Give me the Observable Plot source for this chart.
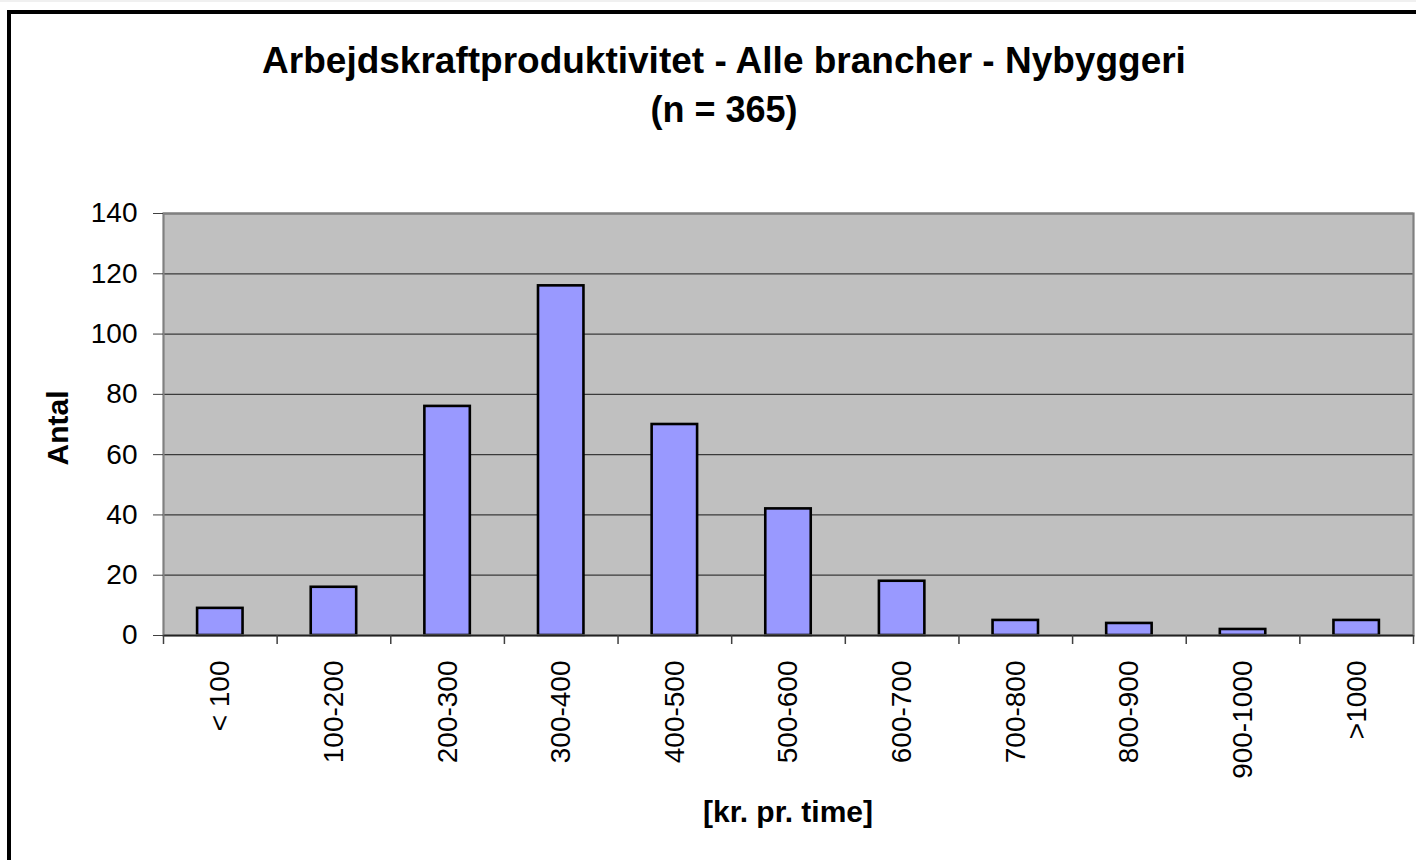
<!DOCTYPE html>
<html>
<head>
<meta charset="utf-8">
<script src="https://cdn.jsdelivr.net/npm/d3@7"></script>
<script src="https://cdn.jsdelivr.net/npm/@observablehq/plot@0.6"></script>
<style>
  html, body { margin: 0; padding: 0; background: white; }
  #wrap { position: relative; width: 1416px; height: 860px; overflow: hidden; background: white;
          font-family: "Liberation Sans", Arial, sans-serif; color: #000; }
  #chart { position: absolute; left: 0; top: 0; }
  .t { position: absolute; text-align: center; font-weight: bold; white-space: nowrap; }
  #frame { position: absolute; left: 7px; top: 10px; width: 1500px; height: 1000px;
           border: 4px solid #000; box-sizing: border-box; background: transparent; }
  #strip { position: absolute; left: 0; top: 0; width: 1416px; height: 2px; background: #f0f0f0; }
</style>
</head>
<body>
<div id="wrap">
  <div id="chart"></div>
  <div id="strip"></div>
  <div id="frame"></div>
  <div class="t" style="left:224px; top:42px; width:1000px; font-size:37px; line-height:37px;">Arbejdskraftproduktivitet - Alle brancher - Nybyggeri</div>
  <div class="t" style="left:224px; top:91.5px; width:1000px; font-size:36px; line-height:36px;">(n = 365)</div>
  <div class="t" style="left:588px; top:796.5px; width:400px; font-size:30px; line-height:30px;">[kr. pr. time]</div>
  <div class="t" style="left:-42px; top:413px; width:200px; height:30px; font-size:30px; line-height:30px; transform: rotate(-90deg);">Antal</div>
</div>
<script>
// Data
const categories = ["< 100", "100-200", "200-300", "300-400", "400-500", "500-600", "600-700", "700-800", "800-900", "900-1000", ">1000"];
const counts = [9, 16, 76, 116, 70, 42, 18, 5, 4, 2, 5];
const yTicks = [0, 20, 40, 60, 80, 100, 120, 140];

const data = categories.map((c, i) => ({category: c, count: counts[i]}));

const W = 1416, H = 860;
const mL = 163, mR = 3, mT = 213, mB = 225;
const step = (W - mL - mR) / categories.length;

const chart = Plot.plot({
  width: W,
  height: H,
  marginLeft: mL,
  marginRight: mR,
  marginTop: mT,
  marginBottom: mB,
  style: {fontFamily: '"Liberation Sans", Arial, sans-serif', background: "transparent", color: "#000", overflow: "visible"},
  x: {domain: categories, paddingInner: 0.6, paddingOuter: 0.3, round: false, label: null},
  y: {domain: [0, 140], label: null},
  marks: [
    Plot.frame({fill: "#c0c0c0", stroke: null}),
    Plot.gridY(yTicks, {stroke: "#3a3a3a", strokeOpacity: 1, strokeWidth: 1.3}),
    Plot.barY(data, {x: "category", y: "count", fill: "#9999ff", stroke: "#000", strokeWidth: 2.6}),
    Plot.frame({stroke: "#808080", strokeWidth: 2.2}),
    Plot.ruleY([0], {stroke: "#222", strokeWidth: 1.5}),
    Plot.ruleX(categories, {x: d => d, dx: -step / 2, y1: () => 0, y2: () => 0, insetBottom: -9, stroke: "#404040", strokeWidth: 1.5}),
    Plot.ruleX(categories.slice(-1), {x: d => d, dx: step / 2, y1: () => 0, y2: () => 0, insetBottom: -9, stroke: "#404040", strokeWidth: 1.5}),
    Plot.axisY({ticks: yTicks, tickSize: 10, tickPadding: 16, fontSize: 28, stroke: "#404040", label: null}),
    Plot.axisX({tickRotate: -90, tickSize: 0, tickPadding: 25, fontSize: 28, label: null})
  ]
});
document.getElementById("chart").appendChild(chart);
</script>
</body>
</html>
